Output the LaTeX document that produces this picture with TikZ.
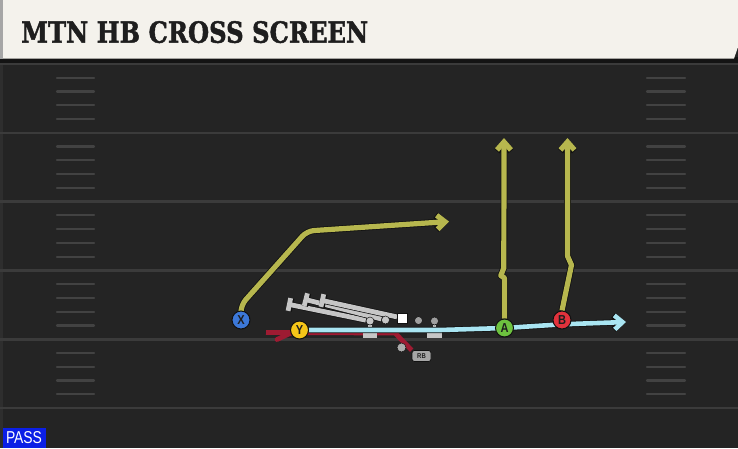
\documentclass[tikz,border=0pt]{standalone}
\usepackage{fontspec}
\setmainfont{DejaVu Serif}
\newfontfamily\lab[FakeStretch=0.85]{Liberation Sans}
\newfontfamily\passfont{Liberation Sans}
\newfontfamily\titlefont[FakeBold=1.6]{DejaVu Serif}
\usetikzlibrary{arrows.meta,calc}
\definecolor{bg}{HTML}{242424}
\definecolor{edgec}{HTML}{2E2E2E}
\definecolor{yardc}{HTML}{3B3B3B}
\definecolor{hashc}{HTML}{424242}
\definecolor{hdr}{HTML}{F4F2EC}
\definecolor{hdrshadow}{HTML}{141414}
\definecolor{titlec}{HTML}{1E1E1E}
\definecolor{routey}{HTML}{B7B74E}
\definecolor{routec}{HTML}{A9E5F2}
\definecolor{router}{HTML}{9E1B32}
\definecolor{olc}{HTML}{C6C6C6}
\definecolor{outl}{HTML}{111111}
\definecolor{cX}{HTML}{3C78D8}
\definecolor{cY}{HTML}{F5C518}
\definecolor{cA}{HTML}{6DC23F}
\definecolor{cB}{HTML}{E2323C}
\definecolor{passblue}{HTML}{0B1FE6}
\pgfdeclarelayer{fieldlayer}
\pgfdeclarelayer{routelayer}
\pgfsetlayers{fieldlayer,routelayer,main}
\begin{document}
\begin{tikzpicture}[x=1pt,y=-1pt,
  yardline/.style={draw=yardc, line width=2.6pt},
  hashmark/.style={draw=hashc, line width=2.2pt, line cap=round},
  yroute/.style={draw=routey, line width=5.2pt, line join=round,
    preaction={draw=outl, line width=6.8pt, line join=round},
    -{Straight Barb[length=8pt,width=14pt]}},
  croute/.style={draw=routec, line width=4.6pt, line join=round,
    preaction={draw=outl, line width=6.2pt, line join=round},
    -{Straight Barb[length=8pt,width=14pt]}},
  rroute/.style={draw=router, line width=4.8pt, line join=round},
  olline/.style={draw=olc, line width=4.8pt, line join=round,
    preaction={draw=outl, line width=6.2pt},
    -{Bar[width=13pt]}},
  player/.style={circle, minimum size=18pt, inner sep=0pt, draw=outl, line width=1pt,
    font=\lab\bfseries\fontsize{13}{13}\selectfont, text=titlec},
  olhead/.style={circle, minimum size=8pt, inner sep=0pt, fill=olc, draw=outl, line width=0.5pt},
  olstem/.style={draw=olc, line width=3.6pt},
  olbase/.style={draw=olc, line width=4.6pt},
]
\useasboundingbox (0,0) rectangle (738,448);

\begin{pgfonlayer}{fieldlayer}
  \fill[bg] (0,0) rectangle (738,448);
  \fill[edgec] (0,58) rectangle (2.5,448);
  \foreach \i in {0,...,5} {
    \draw[yardline] (0,{64+68.8*\i}) -- (738,{64+68.8*\i});
  }
  \foreach \j in {1,...,24} {
    \pgfmathtruncatemacro{\m}{mod(\j,5)}
    \ifnum\m=0\relax\else
      \draw[hashmark] (57,{64+13.76*\j}) -- (94,{64+13.76*\j});
      \draw[hashmark] (647,{64+13.76*\j}) -- (685,{64+13.76*\j});
    \fi
  }
  % header
  \fill[hdrshadow] (0,57) rectangle (738,62.5);
  \fill[hdr] (0,0) -- (738,0) -- (738,47) -- (734,58.5) -- (0,58.5) -- cycle;
  \fill[gray!70] (0,0) rectangle (2.5,58.5);
\end{pgfonlayer}

% title
\node[anchor=south west, inner sep=0pt, text=titlec] (title) at (21,43.3)
  {\resizebox{347pt}{21.6pt}{\titlefont\bfseries MTN HB CROSS SCREEN}};

% PASS tag
\node[fill=passblue, minimum width=43pt, minimum height=20pt, inner sep=0pt,
  text=white] (pass) at (24,438) {\resizebox{36pt}{12pt}{\passfont PASS}};

% players
\node[player, fill=cX] (X) at (241,320) {X};
\node[player, fill=cY] (Y) at (299.5,330) {Y};
\node[player, fill=cA] (A) at (504.5,328) {A};
\node[player, fill=cB] (B) at (562,320) {B};
\node[rounded corners=2.5pt, fill=gray!70, draw=outl, line width=0.7pt,
  minimum width=19pt, minimum height=11pt, inner sep=0pt,
  font=\lab\bfseries\fontsize{7}{7}\selectfont, text=titlec] (RB) at (421.5,356) {RB};
\node[circle, fill=gray!65, draw=outl, line width=0.5pt, minimum size=9pt, inner sep=0pt] (dot) at (401.5,347.5) {};

% linemen
\node[olhead] (lt) at (370,321) {};
\node[olhead] (lg) at (385.5,320) {};
\node[fill=white, draw=outl, line width=0.5pt, minimum size=9.5pt, inner sep=0pt] (C) at (402,318) {};
\node[olhead, fill=gray!75] (rg) at (418.5,320.5) {};
\node[olhead, fill=gray!75] (rt) at (434.5,321) {};

\coordinate (t1) at (287,304);
\coordinate (t2) at (303.5,299);
\coordinate (t3) at (320,300);
\coordinate (xa) at (241,305);
\coordinate (xb) at (307,231);
\coordinate (xe) at (449,221.5);
\coordinate (aa) at (504.5,278);
\coordinate (ab) at (500.8,275.5);
\coordinate (ac) at (503.8,268);
\coordinate (ae) at (504,138);
\coordinate (ba) at (571.5,265);
\coordinate (bb) at (567.5,256);
\coordinate (be) at (567.5,138);
\coordinate (ca) at (440,330);
\coordinate (cb) at (562,324.3);
\coordinate (ce) at (626,322);
\coordinate (ra) at (395,333);
\coordinate (re) at (266,332.5);
\coordinate (rk1) at (291,333);
\coordinate (rk2) at (277,339.5);
\coordinate (b1) at (370,335.5);
\coordinate (b2) at (434.5,335.5);

\begin{pgfonlayer}{routelayer}
  % OL blocking lines
  \draw[olline] (lt) -- (t1);
  \draw[olline] (lg) -- (t2);
  \draw[olline] (C) -- (t3);
  % red path
  \draw[rroute] (RB.north west) -- (ra) -- (re);
  \draw[rroute, line cap=round] (rk1) -- (rk2);
  % lineman stems and bases
  \draw[olstem] (lt) -- (b1);
  \draw[olbase] ($(b1)+(-7,0)$) -- ($(b1)+(7,0)$);
  \draw[olstem] (rt) -- (b2);
  \draw[olbase] ($(b2)+(-7.5,0)$) -- ($(b2)+(7.5,0)$);
  % cyan route
  \draw[croute] (Y.east) -- (ca) -- (A.center) -- (cb) -- (ce);
  % yellow routes
  \draw[yroute, rounded corners=7pt] (X.north) -- (xa) -- (xb) -- (xe);
  \draw[yroute] (A.north) -- (aa) -- (ab) -- (ac) -- (ae);
  \draw[yroute] (B.north) -- (ba) -- (bb) -- (be);
\end{pgfonlayer}
\end{tikzpicture}
\end{document}
